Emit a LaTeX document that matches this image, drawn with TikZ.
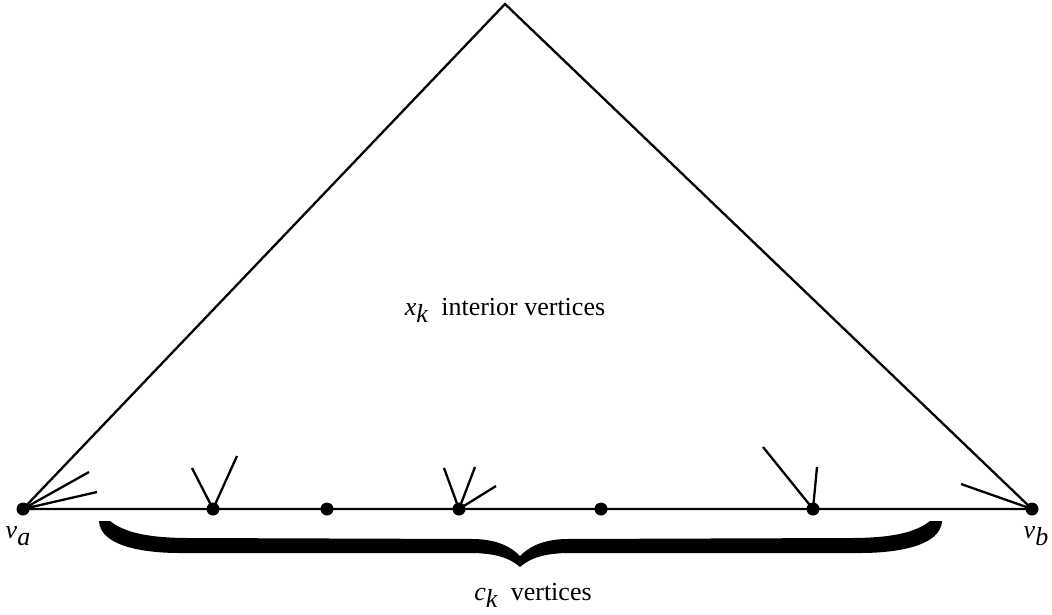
\documentclass[tikz,border=0pt]{standalone}
\usepackage{fontspec}
\setmainfont{Liberation Serif}
\begin{document}
\begin{tikzpicture}[x=1pt,y=-1pt,
  edge/.style={line width=2.3pt},
  vdot/.style={circle,fill=black,inner sep=0pt,minimum size=13pt},
  lbl/.style={font=\fontsize{26}{30}\selectfont,inner sep=0pt,anchor=base}]
\useasboundingbox (0,0) rectangle (1052,614);
% vertices
\node[vdot] (va) at (23,509) {};
\node[vdot] (vb) at (1032,509) {};
\coordinate (top) at (505,4);
\node[vdot] (d1) at (213,509) {};
\node[vdot] (d2) at (327,509) {};
\node[vdot] (d3) at (459,509) {};
\node[vdot] (d4) at (601,509) {};
\node[vdot] (d5) at (813,509) {};
% triangle
\draw[edge,line join=miter] (va.center) -- (top) -- (vb.center) -- (va.center);
% stub ends
\coordinate (a1) at (89,472);
\coordinate (a2) at (97,492);
\coordinate (b1) at (192,468);
\coordinate (b2) at (237,456);
\coordinate (c1) at (444,468);
\coordinate (c2) at (475,467);
\coordinate (c3) at (496,486);
\coordinate (e1) at (763,447);
\coordinate (e2) at (817,467);
\coordinate (f1) at (961,484);
\draw[edge] (va.center) -- (a1) (va.center) -- (a2);
\draw[edge] (d1.center) -- (b1) (d1.center) -- (b2);
\draw[edge] (d3.center) -- (c1) (d3.center) -- (c2) (d3.center) -- (c3);
\draw[edge] (d5.center) -- (e1) (d5.center) -- (e2);
\draw[edge] (vb.center) -- (f1);
% brace
\fill (99,521) -- (110,521) .. controls (125,533) and (150,538) .. (190,538)
  -- (475,539) .. controls (500,540) and (512,548) .. (520,556)
  .. controls (528,548) and (540,540) .. (565,539)
  -- (850,538) .. controls (890,538) and (915,533) .. (930,521)
  -- (942,521) .. controls (941,545) and (900,553) .. (860,553)
  -- (570,553) .. controls (545,553) and (530,558) .. (520,567)
  .. controls (510,558) and (495,553) .. (470,553)
  -- (180,553) .. controls (140,553) and (100,545) .. (99,521) -- cycle;
% labels
\node[lbl] (lva) at (18,538) {\textit{v}\raisebox{-0.3em}{\textit{a}}};
\node[lbl] (lvb) at (1036,538) {\textit{v}\raisebox{-0.3em}{\textit{b}}};
\node[lbl] (lint) at (505,315) {\textit{x}\raisebox{-0.3em}{\textit{k}}\ \ interior vertices};
\node[lbl] (lck) at (533,600) {\textit{c}\raisebox{-0.3em}{\textit{k}}\ \ vertices};
\end{tikzpicture}
\end{document}
